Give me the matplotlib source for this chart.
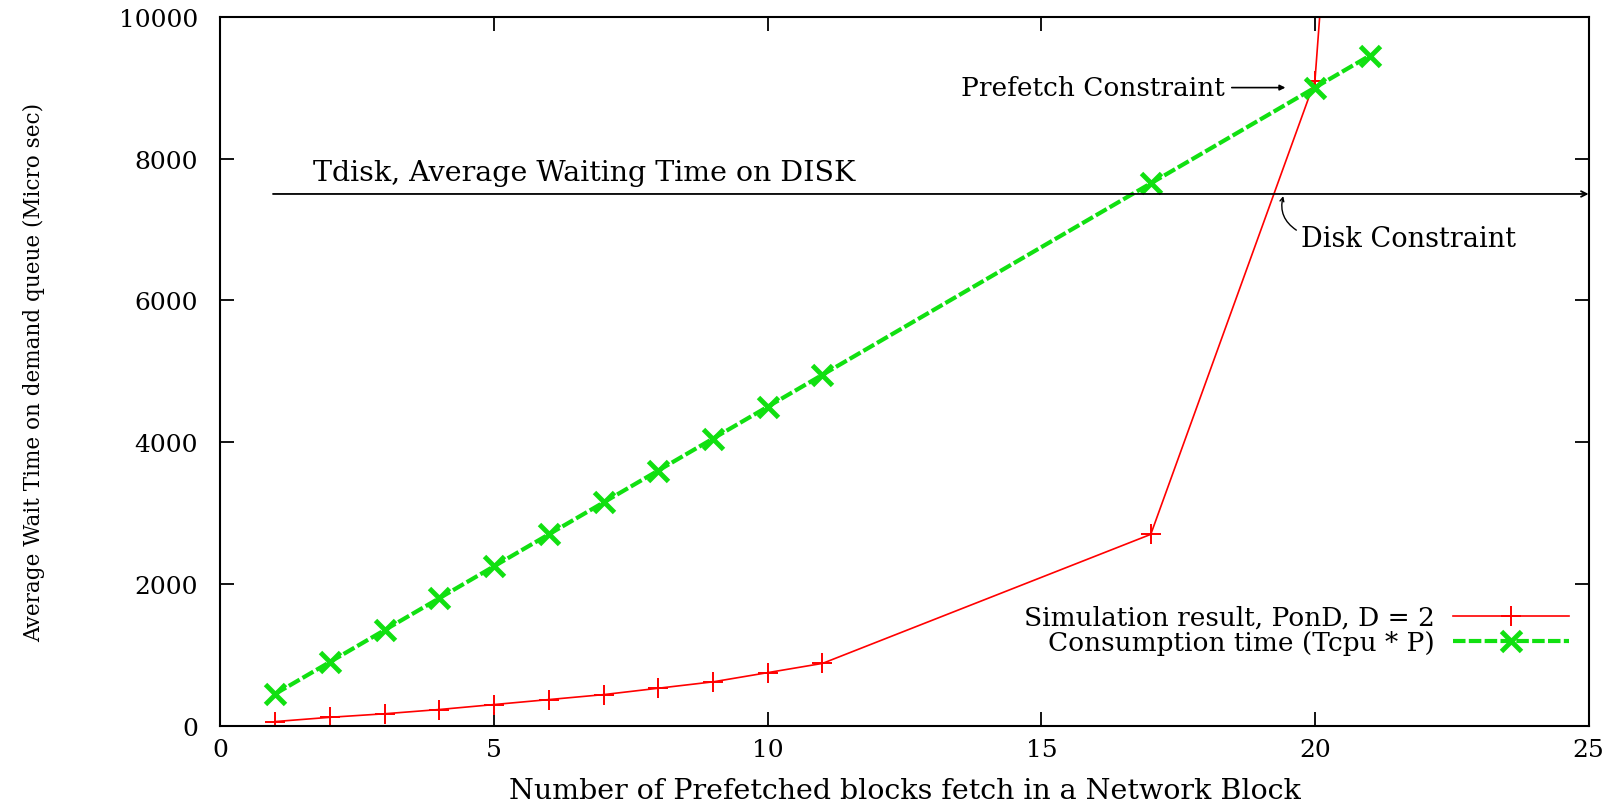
import matplotlib
matplotlib.use('Agg')
import matplotlib.pyplot as plt

# values
sim_x = [1, 2, 3, 4, 5, 6, 7, 8, 9, 10, 11, 17, 20, 21]
sim_y = [60, 120, 170, 230, 300, 370, 440, 530, 620, 750, 880, 2700, 9100, 19500]
cons_x = [1, 2, 3, 4, 5, 6, 7, 8, 9, 10, 11, 17, 20, 21]
cons_y = [450, 900, 1350, 1800, 2250, 2700, 3150, 3600, 4050, 4500, 4950, 7650, 9000, 9450]
tdisk = 7500
x_ticks = [0, 5, 10, 15, 20, 25]
y_ticks = [0, 2000, 4000, 6000, 8000, 10000]

plt.rcParams['font.family'] = 'DejaVu Serif'

fig = plt.figure(figsize=(16.21, 8.04), dpi=100)
ax = fig.add_axes([0.136, 0.096, 0.844, 0.882])

ax.plot(sim_x, sim_y, color='red', lw=1.2, marker='+', ms=14, mew=1.4,
        label='Simulation result, PonD, D = 2')
ax.plot(cons_x, cons_y, color='#11e011', lw=3, ls=(0, (3, 0.8)), marker='x', ms=14, mew=3.5,
        label='Consumption time (Tcpu * P)')

# Tdisk line
ax.annotate('', xy=(25, tdisk), xytext=(0.96, tdisk),
            arrowprops=dict(arrowstyle='->', color='black', lw=1.3, shrinkA=0, shrinkB=0))
ax.text(1.7, 7800, 'Tdisk, Average Waiting Time on DISK', fontsize=20.5, va='center')

# constraint labels
ax.text(18.35, 9000, 'Prefetch Constraint', fontsize=19, ha='right', va='center')
ax.annotate('', xy=(19.46, 9000), xytext=(18.48, 9000),
            arrowprops=dict(arrowstyle='-|>', color='black', lw=1.2, mutation_scale=8,
                            shrinkA=0, shrinkB=0))
ax.text(19.74, 6870, 'Disk Constraint', fontsize=19.5, ha='left', va='center')
ax.annotate('', xy=(19.42, 7470), xytext=(19.66, 6990),
            arrowprops=dict(arrowstyle='->', color='black', lw=1.0, mutation_scale=7,
                            connectionstyle='arc3,rad=-0.35', shrinkA=0, shrinkB=0))

ax.set_xlim(0, 25)
ax.set_ylim(0, 10000)
ax.set_xticks(x_ticks)
ax.set_yticks(y_ticks)
ax.tick_params(direction='in', length=10, width=1.3, top=True, right=True, labelsize=18)
ax.tick_params(axis='x', pad=9)
ax.tick_params(axis='y', pad=16)
for s in ax.spines.values():
    s.set_linewidth(1.5)

ax.set_xlabel('Number of Prefetched blocks fetch in a Network Block', fontsize=20.5)
ax.xaxis.set_label_coords(0.5, -0.072)
ax.set_ylabel('Average Wait Time on demand queue (Micro sec)', fontsize=15.5)
ax.yaxis.set_label_coords(-0.128, 0.5)

ax.legend(loc='lower right', bbox_to_anchor=(0.986, 0.1), markerfirst=False, frameon=False,
          handlelength=4.4, fontsize=19, labelspacing=0.0, handletextpad=0.7, borderpad=0,
          borderaxespad=0)

fig.savefig('out.png', dpi=100)
